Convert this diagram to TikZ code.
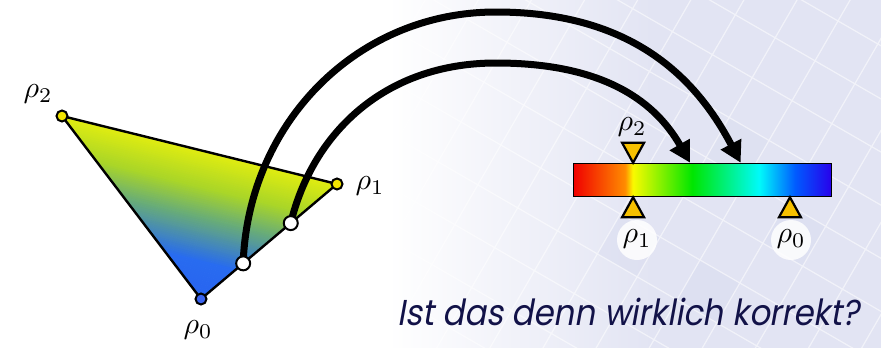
\documentclass[tikz,border=0pt]{standalone}
\usepackage{fontspec}
\usetikzlibrary{arrows.meta,calc}
\newfontfamily\capfont[FakeSlant=0.2]{Poppins}
\definecolor{bglav}{RGB}{226,228,243}
\definecolor{bglavB}{RGB}{218,221,240}
\definecolor{vyel}{RGB}{242,228,0}
\definecolor{vblue}{RGB}{58,100,240}
\definecolor{mkyel}{RGB}{246,192,0}
\definecolor{navy}{RGB}{18,18,72}
\definecolor{cRed}{RGB}{240,0,0}
\definecolor{cOra}{RGB}{255,140,0}
\definecolor{cYel}{RGB}{250,250,0}
\definecolor{cGre}{RGB}{0,230,0}
\definecolor{cCya}{RGB}{0,250,250}
\definecolor{cBlu}{RGB}{0,90,255}
\definecolor{cDBl}{RGB}{40,0,235}
\pgfdeclarehorizontalshading{rainbow}{100bp}{color(0bp)=(cRed); color(25bp)=(cRed); color(35bp)=(cOra); color(36.5bp)=(cYel); color(48bp)=(cGre); color(61bp)=(cCya); color(68bp)=(cBlu); color(75bp)=(cDBl); color(100bp)=(cDBl)}
\pgfdeclarehorizontalshading{bgshade}{100bp}{color(0bp)=(white); color(25bp)=(white); color(47bp)=(white); color(62bp)=(bglav); color(100bp)=(bglav)}
\newcommand{\bigrho}[1]{\scalebox{3.0}{$\rho_{#1}$}}
\tikzset{
  edge/.style={line width=2.4pt, line join=round},
  vdot/.style={circle, draw=black, line width=2pt, minimum size=11pt, inner sep=0pt},
  hole/.style={circle, draw=black, line width=2pt, fill=white, minimum size=14pt, inner sep=0pt},
  arc/.style={line width=7pt, -{Triangle[length=21pt,width=22pt]}},
  marker/.style={fill=mkyel, draw=black, line width=2.2pt, line join=miter},
  lab/.style={inner sep=0pt},
  glow/.style={circle, fill=white, fill opacity=0.85, minimum size=40pt, inner sep=0pt}
}
\begin{document}
\begin{tikzpicture}[x=1pt,y=-1pt]
\useasboundingbox (0,0) rectangle (881,348);
% background
\shade[shading=bgshade] (0,0) rectangle (881,348);
\begin{scope}
  \clip (0,0) rectangle (881,348);
  \begin{scope}[shift={(700,260)}, rotate=-30]
    \fill[bglavB, opacity=0.5] (0,0) rectangle (46,46);
    \fill[bglavB, opacity=0.5] (46,-92) rectangle (92,-46);
    \fill[bglavB, opacity=0.5] (-92,0) rectangle (-46,46);
    \fill[bglavB, opacity=0.5] (92,46) rectangle (138,92);
    \fill[bglavB, opacity=0.4] (-46,-138) rectangle (0,-92);
    \draw[white, line width=1.2pt, opacity=0.55] (-460,-460) grid[step=46pt] (460,460);
  \end{scope}
\end{scope}
% glows behind lower labels
\node[glow] (g1) at (637,240) {};
\node[glow] (g0) at (791,240) {};
% triangle vertices
\coordinate (p2) at (62,116);
\coordinate (p1) at (337,184);
\coordinate (p0) at (201,299);
% gradient fill as strips (piecewise linear colour ramp)
\foreach \i in {0,...,69}{
  \pgfmathsetmacro{\ta}{\i/70}
  \pgfmathsetmacro{\tb}{(\i+1)/70}
  \pgfmathsetmacro{\tm}{(\i+0.5)/70}
  \pgfmathtruncatemacro{\cr}{\tm<0.25 ? 226+(170-226)*\tm/0.25 : (\tm<0.45 ? 170+(106-170)*(\tm-0.25)/0.2 : (\tm<0.75 ? 106+(40-106)*(\tm-0.45)/0.3 : 40))}
  \pgfmathtruncatemacro{\cg}{\tm<0.25 ? 238+(214-238)*\tm/0.25 : (\tm<0.45 ? 214+(174-214)*(\tm-0.25)/0.2 : (\tm<0.75 ? 174+(108-174)*(\tm-0.45)/0.3 : 108-(8*(\tm-0.75)/0.25)))}
  \pgfmathtruncatemacro{\cb}{\tm<0.25 ? 16+(40-16)*\tm/0.25 : (\tm<0.45 ? 40+(118-40)*(\tm-0.25)/0.2 : (\tm<0.75 ? 118+(238-118)*(\tm-0.45)/0.3 : 240))}
  \definecolor{stripc}{RGB}{\cr,\cg,\cb}
  \fill[draw, line width=0.7pt, color=stripc]
    ($(p2)!\ta!(p0)$) -- ($(p1)!\ta!(p0)$) -- ($(p1)!\tb!(p0)$) -- ($(p2)!\tb!(p0)$) -- cycle;
}
\draw[edge] (p2) -- (p1) -- (p0) -- cycle;
% colour bar
\node[draw=black, line width=1.5pt, shading=rainbow, minimum width=258pt, minimum height=33pt, inner sep=0pt] (bar) at (702.5,180) {};
\coordinate (t2) at ($(bar.north west)!0.2325!(bar.north east)$);
\coordinate (t1) at ($(bar.south west)!0.2325!(bar.south east)$);
\coordinate (t0) at ($(bar.south west)!0.837!(bar.south east)$);
\coordinate (tipA) at ($(bar.north west)!0.452!(bar.north east)$);
\coordinate (tipB) at ($(bar.north west)!0.647!(bar.north east)$);
% holes on the edge
\coordinate (s1) at ($(p0)!0.31!(p1)$);
\coordinate (s2) at ($(p0)!0.66!(p1)$);
% arcs
\draw[arc] (s1) .. controls (248,124) and (356,12) .. (496,12)
   .. controls (626,12) and (693,72) .. (tipB);
\draw[arc] (s2) .. controls (312,135) and (383,63) .. (496,63)
   .. controls (596,63) and (652,96) .. (tipA);
\node[hole] (h1) at (s1) {};
\node[hole] (h2) at (s2) {};
% vertex dots
\node[vdot, fill=vyel] (v2) at (p2) {};
\node[vdot, fill=vyel] (v1) at (p1) {};
\node[vdot, fill=vblue] (v0) at (p0) {};
% markers on bar
\draw[marker] (t2) -- ++(-11,-20) -- ++(22,0) -- cycle;
\draw[marker] (t1) -- ++(-11,20) -- ++(22,0) -- cycle;
\draw[marker] (t0) -- ++(-11,20) -- ++(22,0) -- cycle;
% labels
\node[lab] (l2) at (38,94) {\bigrho{2}};
\node[lab] (l1) at (370,186) {\bigrho{1}};
\node[lab] (l0) at (198,330) {\bigrho{0}};
\node[lab] (b2) at (632,127) {\bigrho{2}};
\node[lab] (b1) at (637,239) {\bigrho{1}};
\node[lab] (b0) at (791,239) {\bigrho{0}};
% caption
\node[anchor=base west, inner sep=0pt, text=navy, font=\capfont\fontsize{36}{40}\selectfont] (cap) at (397,325) {\scalebox{0.9}[1]{Ist das denn wirklich korrekt?}};
\end{tikzpicture}
\end{document}
